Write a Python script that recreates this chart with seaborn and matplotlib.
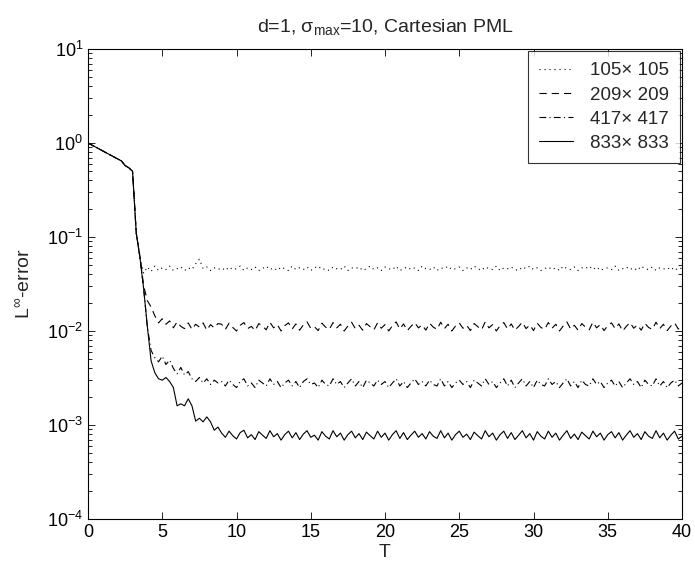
import numpy as np
import pandas as pd
import matplotlib
matplotlib.use("Agg")
import matplotlib.pyplot as plt
import seaborn as sns
from matplotlib.ticker import LogLocator, NullLocator, NullFormatter

sns.set_style("white")
plt.rcParams['font.family'] = ['Liberation Sans', 'DejaVu Sans']
plt.rcParams['mathtext.fontset'] = 'custom'
plt.rcParams['mathtext.rm'] = 'Liberation Sans'
plt.rcParams['mathtext.it'] = 'Liberation Sans:italic'

# sample times
T = [
    0.0, 0.25, 0.5, 0.75, 1.0, 1.25, 1.5, 1.75,
    2.0, 2.25, 2.5, 2.75, 3.0, 3.25, 3.5, 3.75,
    4.0, 4.25, 4.5, 4.75, 5.0, 5.25, 5.5, 5.75,
    6.0, 6.25, 6.5, 6.75, 7.0, 7.25, 7.5, 7.75,
    8.0, 8.25, 8.5, 8.75, 9.0, 9.25, 9.5, 9.75,
    10.0, 10.25, 10.5, 10.75, 11.0, 11.25, 11.5, 11.75,
    12.0, 12.25, 12.5, 12.75, 13.0, 13.25, 13.5, 13.75,
    14.0, 14.25, 14.5, 14.75, 15.0, 15.25, 15.5, 15.75,
    16.0, 16.25, 16.5, 16.75, 17.0, 17.25, 17.5, 17.75,
    18.0, 18.25, 18.5, 18.75, 19.0, 19.25, 19.5, 19.75,
    20.0, 20.25, 20.5, 20.75, 21.0, 21.25, 21.5, 21.75,
    22.0, 22.25, 22.5, 22.75, 23.0, 23.25, 23.5, 23.75,
    24.0, 24.25, 24.5, 24.75, 25.0, 25.25, 25.5, 25.75,
    26.0, 26.25, 26.5, 26.75, 27.0, 27.25, 27.5, 27.75,
    28.0, 28.25, 28.5, 28.75, 29.0, 29.25, 29.5, 29.75,
    30.0, 30.25, 30.5, 30.75, 31.0, 31.25, 31.5, 31.75,
    32.0, 32.25, 32.5, 32.75, 33.0, 33.25, 33.5, 33.75,
    34.0, 34.25, 34.5, 34.75, 35.0, 35.25, 35.5, 35.75,
    36.0, 36.25, 36.5, 36.75, 37.0, 37.25, 37.5, 37.75,
    38.0, 38.25, 38.5, 38.75, 39.0, 39.25, 39.5, 39.75,
    40.0,
]

# T = 0 .. 3.25, identical for every grid
head = [1.0, 0.953, 0.907, 0.864, 0.822, 0.783, 0.746, 0.71,
        0.676, 0.645, 0.575, 0.545, 0.50, 0.11]

# T = 3.5 .. 8.75
e105_trans = [0.062, 0.041, 0.048, 0.043, 0.049, 0.044, 0.047, 0.045, 0.049, 0.044, 0.046,
              0.048, 0.044, 0.047, 0.045, 0.052, 0.058, 0.046, 0.048, 0.044, 0.047, 0.045]
e209_trans = [0.062, 0.030, 0.021, 0.018, 0.0145, 0.0122, 0.0135, 0.0118, 0.0128, 0.0108, 0.0125,
              0.0112, 0.0106, 0.0122, 0.0104, 0.0118, 0.0110, 0.0122, 0.0102, 0.0117, 0.0108, 0.0120]
e417_trans = [0.060, 0.028, 0.011, 0.0062, 0.0052, 0.0047, 0.0054, 0.0044, 0.0049, 0.0040, 0.0035,
              0.0041, 0.0034, 0.0037, 0.0031, 0.0029, 0.0032, 0.0028, 0.0031, 0.0027, 0.0030, 0.0028]
e833_trans = [0.060, 0.028, 0.011, 0.0048, 0.0036, 0.0031, 0.0030, 0.0032, 0.0029, 0.0025, 0.0016,
              0.00168, 0.0016, 0.0019, 0.0016, 0.0011, 0.00118, 0.00108, 0.00122, 0.00108, 0.00088, 0.00095]

# T = 9 .. 40
e105_steady = [
    0.047, 0.044, 0.048, 0.045, 0.046, 0.049, 0.044, 0.047,
    0.045, 0.048, 0.044, 0.046, 0.049, 0.045, 0.047, 0.044,
    0.048, 0.046, 0.044, 0.049, 0.045, 0.047, 0.045, 0.048,
    0.044, 0.047, 0.049, 0.045, 0.046, 0.044, 0.048, 0.046,
    0.045, 0.049, 0.044, 0.047, 0.046, 0.048, 0.044, 0.046,
    0.049, 0.045, 0.047, 0.044, 0.048, 0.046, 0.045, 0.049,
    0.044, 0.046, 0.048, 0.045, 0.047, 0.044, 0.049, 0.046,
    0.045, 0.048, 0.044, 0.047, 0.046, 0.049, 0.045, 0.046,
    0.048, 0.044, 0.047, 0.045, 0.049, 0.046, 0.044, 0.048,
    0.046, 0.045, 0.049, 0.044, 0.047, 0.046, 0.048, 0.045,
    0.044, 0.048, 0.046, 0.049, 0.045, 0.047, 0.044, 0.046,
    0.048, 0.045, 0.047, 0.044, 0.049, 0.046, 0.045, 0.048,
    0.044, 0.047, 0.046, 0.049, 0.045, 0.048, 0.044, 0.046,
    0.047, 0.045, 0.049, 0.044, 0.046, 0.048, 0.045, 0.047,
    0.044, 0.049, 0.046, 0.045, 0.048, 0.044, 0.047, 0.046,
    0.045, 0.048, 0.044, 0.047, 0.046,
]
e209_steady = [
    0.0118, 0.0104, 0.0121, 0.0109, 0.0100, 0.0115, 0.0123, 0.0106,
    0.0112, 0.0101, 0.0120, 0.0113, 0.0103, 0.0124, 0.0108, 0.0117,
    0.0100, 0.0114, 0.0122, 0.0105, 0.0119, 0.0102, 0.0116, 0.0125,
    0.0107, 0.0111, 0.0101, 0.0121, 0.0110, 0.0104, 0.0123, 0.0108,
    0.0118, 0.0100, 0.0113, 0.0124, 0.0106, 0.0115, 0.0102, 0.0120,
    0.0111, 0.0103, 0.0122, 0.0107, 0.0117, 0.0100, 0.0114, 0.0125,
    0.0105, 0.0119, 0.0101, 0.0112, 0.0123, 0.0108, 0.0116, 0.0102,
    0.0121, 0.0110, 0.0104, 0.0124, 0.0106, 0.0118, 0.0100, 0.0113,
    0.0122, 0.0107, 0.0115, 0.0101, 0.0120, 0.0111, 0.0103, 0.0125,
    0.0108, 0.0117, 0.0100, 0.0114, 0.0123, 0.0105, 0.0119, 0.0102,
    0.0112, 0.0124, 0.0106, 0.0116, 0.0101, 0.0121, 0.0109, 0.0104,
    0.0123, 0.0107, 0.0118, 0.0100, 0.0113, 0.0125, 0.0105, 0.0115,
    0.0102, 0.0120, 0.0110, 0.0103, 0.0124, 0.0108, 0.0117, 0.0101,
    0.0114, 0.0122, 0.0106, 0.0119, 0.0100, 0.0112, 0.0123, 0.0107,
    0.0116, 0.0102, 0.0121, 0.0109, 0.0104, 0.0124, 0.0106, 0.0118,
    0.0101, 0.0113, 0.0122, 0.0105, 0.0110,
]
e417_steady = [
    0.0029, 0.0026, 0.0030, 0.0027, 0.0025, 0.0029, 0.0031, 0.0026,
    0.0028, 0.0025, 0.0030, 0.0028, 0.0026, 0.0031, 0.0027, 0.0029,
    0.0025, 0.0028, 0.0030, 0.0026, 0.0029, 0.0025, 0.0029, 0.0031,
    0.0027, 0.0028, 0.0025, 0.0030, 0.0027, 0.0026, 0.0031, 0.0027,
    0.0029, 0.0025, 0.0028, 0.0031, 0.0026, 0.0029, 0.0025, 0.0030,
    0.0028, 0.0026, 0.0030, 0.0027, 0.0029, 0.0025, 0.0028, 0.0031,
    0.0026, 0.0029, 0.0025, 0.0028, 0.0031, 0.0027, 0.0029, 0.0026,
    0.0030, 0.0027, 0.0026, 0.0031, 0.0026, 0.0029, 0.0025, 0.0028,
    0.0030, 0.0027, 0.0029, 0.0025, 0.0030, 0.0028, 0.0026, 0.0031,
    0.0027, 0.0029, 0.0025, 0.0028, 0.0031, 0.0026, 0.0030, 0.0025,
    0.0028, 0.0031, 0.0026, 0.0029, 0.0025, 0.0030, 0.0027, 0.0026,
    0.0031, 0.0027, 0.0029, 0.0025, 0.0028, 0.0031, 0.0026, 0.0029,
    0.0025, 0.0030, 0.0027, 0.0026, 0.0031, 0.0027, 0.0029, 0.0025,
    0.0028, 0.0030, 0.0026, 0.0029, 0.0025, 0.0028, 0.0031, 0.0027,
    0.0029, 0.0025, 0.0030, 0.0027, 0.0026, 0.0031, 0.0026, 0.0029,
    0.0025, 0.0028, 0.0030, 0.0026, 0.0028,
]
e833_steady = [
    0.00082, 0.00074, 0.00086, 0.00077, 0.00071, 0.00083, 0.00088, 0.00073,
    0.00079, 0.00070, 0.00085, 0.00078, 0.00072, 0.00087, 0.00075, 0.00081,
    0.00069, 0.00079, 0.00086, 0.00073, 0.00083, 0.00070, 0.00080, 0.00087,
    0.00074, 0.00078, 0.00069, 0.00085, 0.00076, 0.00071, 0.00087, 0.00075,
    0.00082, 0.00069, 0.00079, 0.00086, 0.00073, 0.00081, 0.00070, 0.00084,
    0.00077, 0.00071, 0.00086, 0.00074, 0.00082, 0.00069, 0.00079, 0.00087,
    0.00072, 0.00083, 0.00070, 0.00078, 0.00086, 0.00074, 0.00081, 0.00071,
    0.00085, 0.00076, 0.00072, 0.00087, 0.00073, 0.00082, 0.00069, 0.00079,
    0.00086, 0.00074, 0.00080, 0.00070, 0.00084, 0.00077, 0.00071, 0.00087,
    0.00075, 0.00082, 0.00069, 0.00079, 0.00086, 0.00072, 0.00083, 0.00070,
    0.00078, 0.00087, 0.00073, 0.00081, 0.00069, 0.00085, 0.00076, 0.00071,
    0.00086, 0.00074, 0.00082, 0.00069, 0.00078, 0.00087, 0.00072, 0.00080,
    0.00070, 0.00084, 0.00077, 0.00071, 0.00086, 0.00075, 0.00082, 0.00069,
    0.00079, 0.00085, 0.00073, 0.00083, 0.00069, 0.00078, 0.00087, 0.00074,
    0.00081, 0.00070, 0.00085, 0.00076, 0.00072, 0.00087, 0.00073, 0.00082,
    0.00069, 0.00078, 0.00086, 0.00071, 0.00076,
]

labels = ["105\u00d7 105", "209\u00d7 209", "417\u00d7 417", "833\u00d7 833"]
series = [head + e105_trans + e105_steady,
          head + e209_trans + e209_steady,
          head + e417_trans + e417_steady,
          head + e833_trans + e833_steady]
styles = [(0, (1, 3.5)), (0, (6.5, 4.5)), (0, (6, 3, 1, 3)), '-']

fig = plt.figure(figsize=(6.95, 5.70), dpi=100)
ax = fig.add_axes([88 / 695, 51 / 570, 594 / 695, 470 / 570])

for lab, vals, ls in zip(labels, series, styles):
    df = pd.DataFrame({"T": T, "err": vals})
    sns.lineplot(data=df, x="T", y="err", ax=ax, color="black", lw=0.8,
                 linestyle=ls, label=lab)

ax.set_yscale("log")
ax.set_xlim(0, 40)
ax.set_ylim(1e-4, 1e1)
ax.set_xticks([0, 5, 10, 15, 20, 25, 30, 35, 40])
ax.yaxis.set_major_locator(LogLocator(base=10, numticks=10))
ax.yaxis.set_minor_locator(LogLocator(base=10, subs=np.arange(2, 10), numticks=20))
ax.yaxis.set_minor_formatter(NullFormatter())
ax.xaxis.set_minor_locator(NullLocator())
ax.tick_params(which="both", direction="in", top=True, right=True,
               left=True, bottom=True, labelsize=13, colors="black")
ax.tick_params(which="major", length=5, width=0.6)
ax.tick_params(which="minor", length=3, width=0.6)
for sp in ax.spines.values():
    sp.set_color("black")
    sp.set_linewidth(0.8)

ax.set_xlabel("T", fontsize=14, labelpad=2)
ax.set_ylabel(r"L$^{\infty}$-error", fontsize=14, labelpad=10)
ax.set_title("d=1, \u03c3$_{\\rm max}$=10, Cartesian PML", fontsize=14, pad=12)

leg = ax.legend(loc="upper right", bbox_to_anchor=(1.0, 1.0), fontsize=13.5,
                frameon=True, fancybox=False, edgecolor="black",
                handlelength=1.8, handletextpad=0.9, labelspacing=0.38,
                borderpad=0.6, borderaxespad=0.1)
leg.get_frame().set_linewidth(0.8)

fig.savefig("out.png", dpi=100)
